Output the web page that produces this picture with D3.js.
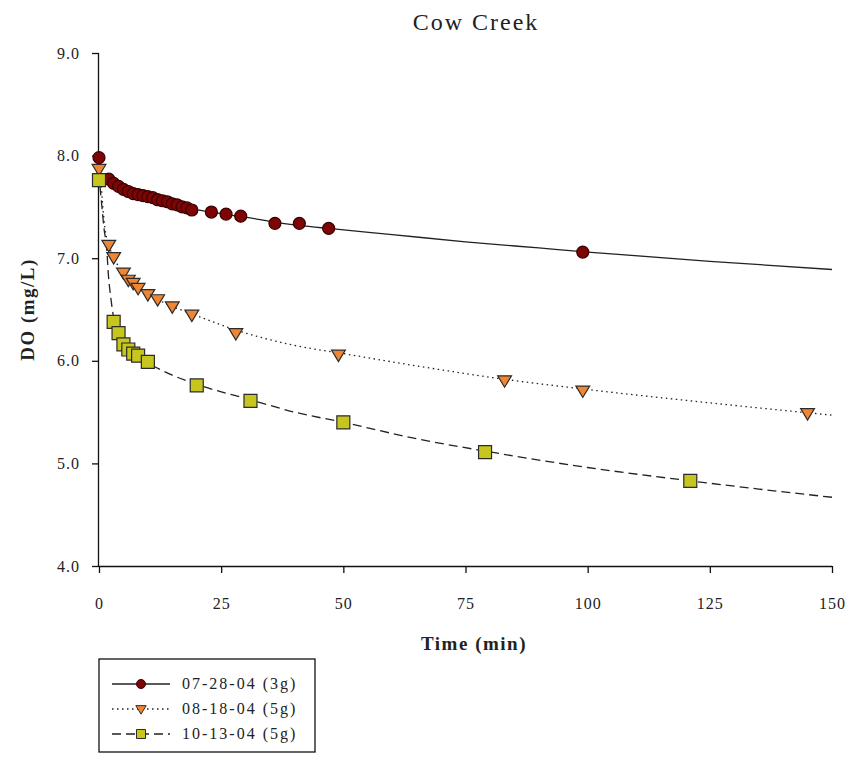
<!DOCTYPE html>
<html>
<head>
<meta charset="utf-8">
<script src="https://cdn.jsdelivr.net/npm/d3@7"></script>
<style>
  body { margin: 0; background: #fff; }
  text { font-family: "Liberation Serif", "Times New Roman", serif; fill: #222; }
</style>
</head>
<body>
<div id="container"></div>
<script>
/* CONSTANTS AND GLOBALS */
const width = 851,
  height = 765,
  plotLeft = 99,
  plotRight = 832,
  plotTop = 53,
  plotBottom = 566;

/* DATA */
const seriesNames = ["07-28-04 (3g)", "08-18-04 (5g)", "10-13-04 (5g)"];

const julTime = [0, 2, 3, 4, 5, 6, 7, 8, 9, 10, 11, 12, 13, 14, 15, 16, 17, 18, 19, 23, 26, 29, 36, 41, 47, 99];
const julDO = [7.98, 7.77, 7.73, 7.70, 7.67, 7.65, 7.63, 7.62, 7.61, 7.60, 7.59, 7.57, 7.56, 7.55, 7.53, 7.52, 7.50, 7.49, 7.47, 7.45, 7.43, 7.41, 7.34, 7.34, 7.29, 7.06];

const augTime = [0, 2, 3, 5, 6, 7, 8, 10, 12, 15, 19, 28, 49, 83, 99, 145];
const augDO = [7.87, 7.13, 7.01, 6.86, 6.79, 6.76, 6.71, 6.65, 6.60, 6.53, 6.45, 6.27, 6.06, 5.81, 5.71, 5.49];

const octTime = [0, 3, 4, 5, 6, 7, 8, 10, 20, 31, 50, 79, 121];
const octDO = [7.76, 6.38, 6.27, 6.16, 6.11, 6.07, 6.05, 5.99, 5.76, 5.61, 5.40, 5.11, 4.83];

// fitted curves as drawn in the chart
const julFitTime = [0.3, 1, 2, 4, 6, 8, 10, 13, 16, 19, 23, 27, 30, 36, 41, 47, 60, 75, 90, 100, 125, 150];
const julFitDO = [7.80, 7.78, 7.76, 7.70, 7.65, 7.62, 7.60, 7.56, 7.52, 7.48, 7.45, 7.42, 7.40, 7.35, 7.32, 7.29, 7.23, 7.16, 7.10, 7.06, 6.97, 6.89];

const augFitTime = [0.3, 0.7, 1.2, 2, 3, 5, 7, 10, 15, 20, 28, 40, 50, 65, 83, 100, 125, 150];
const augFitDO = [7.85, 7.55, 7.30, 7.13, 7.01, 6.85, 6.75, 6.65, 6.53, 6.44, 6.30, 6.15, 6.07, 5.95, 5.82, 5.72, 5.59, 5.47];

const octFitTime = [0.2, 0.5, 1, 1.6, 1.9, 2.4, 3, 4, 5, 6, 7, 8, 10, 15, 20, 31, 40, 50, 65, 79, 100, 121, 135, 150];
const octFitDO = [7.70, 7.55, 7.30, 7.08, 6.85, 6.62, 6.42, 6.27, 6.17, 6.11, 6.07, 6.04, 5.98, 5.86, 5.77, 5.62, 5.50, 5.40, 5.24, 5.12, 4.96, 4.83, 4.75, 4.67];

const xTicks = [0, 25, 50, 75, 100, 125, 150];
const yTicks = [4, 5, 6, 7, 8, 9];

const zip = (ts, vs) => ts.map((t, i) => ({ t: t, v: vs[i] }));

const series = [
  { name: seriesNames[0], pts: zip(julTime, julDO), fit: zip(julFitTime, julFitDO),
    marker: "circle", fill: "#7d0505", stroke: "#3a0000", dash: null },
  { name: seriesNames[1], pts: zip(augTime, augDO), fit: zip(augFitTime, augFitDO),
    marker: "triangle", fill: "#f08532", stroke: "#2b2b2b", dash: "1.5,3.5" },
  { name: seriesNames[2], pts: zip(octTime, octDO), fit: zip(octFitTime, octFitDO),
    marker: "square", fill: "#c6c61e", stroke: "#2b2b2b", dash: "9,5" }
];

/* SCALES */
const xScale = d3.scaleLinear().domain([0, 150]).range([plotLeft, plotRight]);
const yScale = d3.scaleLinear().domain([4, 9]).range([plotBottom, plotTop]);

/* SVG */
const svg = d3.select("#container")
  .append("svg")
  .attr("width", width)
  .attr("height", height);

svg.append("rect").attr("width", width).attr("height", height).attr("fill", "#fff");

// title
svg.append("text")
  .attr("x", 476)
  .attr("y", 30)
  .attr("text-anchor", "middle")
  .style("font-size", "24px")
  .style("letter-spacing", "2px")
  .text("Cow Creek");

/* AXES */
const xAxis = d3.axisBottom(xScale).tickValues(xTicks).tickSize(7).tickPadding(25).tickFormat(d3.format("d"));
const yAxis = d3.axisLeft(yScale).tickValues(yTicks).tickSize(7).tickPadding(12).tickFormat(d3.format(".1f"));

const gx = svg.append("g")
  .attr("transform", `translate(0,${plotBottom})`)
  .call(xAxis);
const gy = svg.append("g")
  .attr("transform", `translate(${plotLeft},0)`)
  .call(yAxis);

[gx, gy].forEach(g => {
  g.select(".domain").attr("stroke", "#111").attr("stroke-width", 1.3);
  g.selectAll(".tick line").attr("stroke", "#111").attr("stroke-width", 1.3);
  g.selectAll(".tick text")
    .style("font-family", "'Liberation Serif', serif")
    .style("font-size", "16px")
    .style("letter-spacing", "1px")
    .attr("fill", "#222");
});
// flat domain ends (no outer ticks drawn by the domain path)
gx.select(".domain").attr("d", `M${plotLeft},0.5H${plotRight}`);
gy.select(".domain").attr("d", `M-0.5,${plotTop}V${plotBottom}`);

// axis titles
svg.append("text")
  .attr("x", 474)
  .attr("y", 650)
  .attr("text-anchor", "middle")
  .style("font-size", "19px")
  .style("font-weight", "bold")
  .style("letter-spacing", "1.5px")
  .text("Time (min)");

svg.append("text")
  .attr("transform", `translate(34,${(plotTop + plotBottom) / 2}) rotate(-90)`)
  .attr("text-anchor", "middle")
  .style("font-size", "19px")
  .style("font-weight", "bold")
  .style("letter-spacing", "1.5px")
  .text("DO (mg/L)");

/* LINES */
const line = d3.line()
  .x(d => xScale(d.t))
  .y(d => yScale(d.v))
  .curve(d3.curveMonotoneX);

svg.selectAll("path.fit")
  .data(series)
  .join("path")
  .attr("class", "fit")
  .attr("d", d => line(d.fit))
  .attr("fill", "none")
  .attr("stroke", "#222")
  .attr("stroke-width", 1.3)
  .attr("stroke-dasharray", d => d.dash);

/* MARKERS */
function markerPath(type, s) {
  if (type === "circle") return d3.symbol(d3.symbolCircle, Math.PI * s * s)();
  if (type === "square") return `M${-s},${-s}H${s}V${s}H${-s}Z`;
  // downward triangle
  return `M${-s * 1.15},${-s * 0.75}H${s * 1.15}L0,${s * 1.15}Z`;
}
const markerSize = { circle: 6, triangle: 6, square: 6.5 };

series.forEach(s => {
  svg.append("g")
    .selectAll("path")
    .data(s.pts)
    .join("path")
    .attr("transform", d => `translate(${xScale(d.t)},${yScale(d.v)})`)
    .attr("d", markerPath(s.marker, markerSize[s.marker]))
    .attr("fill", s.fill)
    .attr("stroke", s.stroke)
    .attr("stroke-width", 1.2);
});

/* LEGEND */
const legend = svg.append("g").attr("transform", "translate(99,659)");
legend.append("rect")
  .attr("width", 216)
  .attr("height", 93)
  .attr("fill", "#fff")
  .attr("stroke", "#111")
  .attr("stroke-width", 1.3);

const rows = legend.selectAll("g.row")
  .data(series)
  .join("g")
  .attr("class", "row")
  .attr("transform", (d, i) => `translate(0,${25 + i * 25})`);

rows.append("line")
  .attr("x1", 13).attr("x2", 71)
  .attr("stroke", "#222")
  .attr("stroke-width", 1.3)
  .attr("stroke-dasharray", d => d.dash);

rows.append("path")
  .attr("transform", "translate(42,0)")
  .attr("d", d => markerPath(d.marker, 4.5))
  .attr("fill", d => d.fill)
  .attr("stroke", d => d.stroke)
  .attr("stroke-width", 1);

rows.append("text")
  .attr("x", 83)
  .attr("y", 5)
  .style("font-size", "16px")
  .style("letter-spacing", "2px")
  .text(d => d.name);
</script>
</body>
</html>
